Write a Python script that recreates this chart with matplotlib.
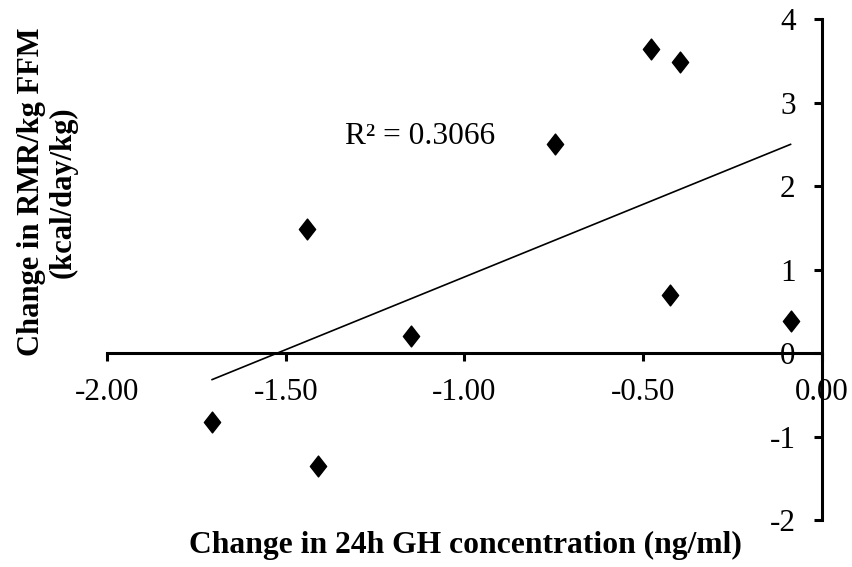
import numpy as np
import matplotlib
matplotlib.use("Agg")
import matplotlib.pyplot as plt
from matplotlib.path import Path

plt.rcParams["font.family"] = ["Liberation Serif", "DejaVu Serif"]
plt.rcParams["axes.unicode_minus"] = False

# Change in 24h GH concentration (ng/ml) vs change in RMR per kg FFM
gh_change = [-1.706, -1.41, -1.441, -1.149, -0.746, -0.478, -0.396, -0.425, -0.088]
rmr_change = [-0.83, -1.35, 1.49, 0.21, 2.50, 3.645, 3.49, 0.70, 0.38]
r_squared_text = "R\u00b2 = 0.3066"

x_ticks = [-2.0, -1.5, -1.0, -0.5, 0.0]
x_tick_labels = ["-2.00", "-1.50", "-1.00", "-0.50", "0.00"]
y_ticks = [-2, -1, 0, 1, 2, 3, 4]
y_tick_labels = ["-2", "-1", "0", "1", "2", "3", "4"]

W, H = 853, 567
fig = plt.figure(figsize=(W / 100, H / 100), dpi=100)
ax = fig.add_axes([107 / W, 1 - 520 / H, (822 - 107) / W, (520 - 19.3) / H])

# slightly tall diamond marker
diamond = Path([(0, 1), (0.78, 0), (0, -1), (-0.78, 0), (0, 1)],
               [Path.MOVETO, Path.LINETO, Path.LINETO, Path.LINETO, Path.CLOSEPOLY])
ax.plot(gh_change, rmr_change, linestyle="none", marker=diamond,
        markersize=15, color="black", zorder=3, clip_on=False)

# least-squares trendline over the data range
xs = np.array(gh_change)
ys = np.array(rmr_change)
slope, intercept = np.polyfit(xs, ys, 1)
xl = np.array([xs.min(), xs.max()])
ax.plot(xl, slope * xl + intercept, color="black", linewidth=1.2, zorder=2)

ax.text(-1.334, 2.50, r_squared_text, fontsize=22.6, ha="left", va="baseline")

ax.set_xlim(-2, 0)
ax.set_ylim(-2, 4)

for side in ("top", "right"):
    ax.spines[side].set_visible(False)
ax.spines["bottom"].set_position(("data", 0))
ax.spines["left"].set_position(("data", 0))
for side in ("bottom", "left"):
    ax.spines[side].set_linewidth(2.2)

ax.set_xticks(x_ticks)
ax.set_xticklabels(x_tick_labels)
ax.set_yticks(y_ticks)
ax.set_yticklabels(y_tick_labels)
ax.tick_params(axis="x", direction="out", length=6, width=2.2, labelsize=22.4, pad=12)
ax.tick_params(axis="y", direction="out", length=6, width=2.2, labelsize=22.4, pad=13)

fig.text(465 / W, 1 - 545 / H, "Change in 24h GH concentration (ng/ml)",
         fontsize=22.8, fontweight="bold", ha="center", va="center")
fig.text(47 / W, 1 - 192 / H, "Change in RMR/kg FFM\n(kcal/day/kg)",
         fontsize=22, fontweight="bold", rotation=90, ha="center", va="center",
         multialignment="center", linespacing=1.1)

fig.savefig("out.png", dpi=100)
